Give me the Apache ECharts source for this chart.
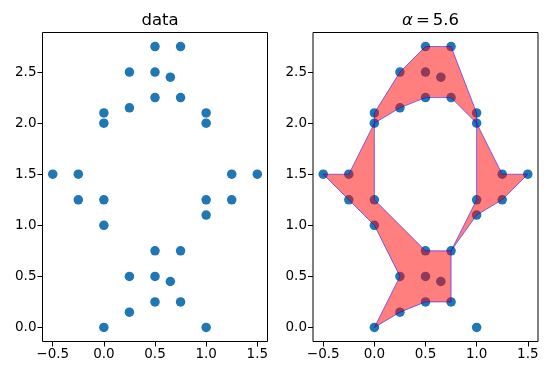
<!DOCTYPE html>
<html lang="en">
<head>
    <meta charset="UTF-8">
    <title>alpha shape</title>
    <style>
        html, body { margin: 0; padding: 0; background: #fff; }
        #main { width: 548px; height: 376px; }
    </style>
</head>
<body>
<div id="main"></div>
<script src="https://cdn.jsdelivr.net/npm/echarts@6.0.0/dist/echarts.min.js"></script>
<script type="text/javascript">
    // point cloud
    var xs = [0, 0.25, 0.5, 0.75, 0.25, 0.5, 0.65, 0.5, 0.75, 1, 0, 0, -0.25, -0.25, -0.5, 0, 0, 0.25,
        0.25, 0.5, 0.75, 0.5, 0.65, 0.5, 0.75, 1, 1, 1.25, 1.5, 1.25, 1, 1];
    var ys = [0, 0.15, 0.25, 0.25, 0.5, 0.5, 0.45, 0.75, 0.75, 0, 1, 1.25, 1.25, 1.5, 1.5, 2, 2.1, 2.15,
        2.5, 2.25, 2.25, 2.5, 2.45, 2.75, 2.75, 2, 2.1, 1.5, 1.5, 1.25, 1.25, 1.1];

    // alpha shape outline (two pieces touching at (0.75,0.75) and (1,2))
    var shapeLeft = [[1, 2], [1, 2.1], [0.75, 2.75], [0.5, 2.75], [0.25, 2.5], [0, 2.1], [0, 2],
        [-0.25, 1.5], [-0.5, 1.5], [-0.25, 1.25], [0, 1], [0.25, 0.5], [0, 0], [0.25, 0.15],
        [0.5, 0.25], [0.75, 0.25], [0.75, 0.75], [0.5, 0.75], [0, 1.25], [0, 2], [0.25, 2.15],
        [0.5, 2.25], [0.75, 2.25]];
    var shapeRight = [[0.75, 0.75], [1, 1.1], [1.25, 1.25], [1.5, 1.5], [1.25, 1.5], [1, 2], [1, 1.25]];
    var shapes = [shapeLeft, shapeRight];

    var xTicks = [-0.5, 0, 0.5, 1, 1.5];
    var yTicks = [0, 0.5, 1, 1.5, 2, 2.5];

    var points = xs.map(function (x, i) { return [x, ys[i]]; });

    function fmt(v) {
        var s = v.toFixed(1);
        return v < 0 ? '\u2212' + s.slice(1) : s;
    }

    var font = 'DejaVu Sans';

    function xAxis(i) {
        return {
            type: 'value', gridIndex: i, min: -0.6, max: 1.6,
            axisLine: { show: false, onZero: false },
            splitLine: { show: false },
            axisTick: { show: true, inside: false, length: 5, lineStyle: { color: '#000', width: 1 }, customValues: xTicks },
            axisLabel: { show: true, customValues: xTicks, formatter: fmt, color: '#000', fontFamily: font, fontSize: 13.5, margin: 6 }
        };
    }

    function yAxis(i) {
        return {
            type: 'value', gridIndex: i, min: -0.1375, max: 2.8875,
            axisLine: { show: false, onZero: false },
            splitLine: { show: false },
            axisTick: { show: true, inside: false, length: 5, lineStyle: { color: '#000', width: 1 }, customValues: yTicks },
            axisLabel: { show: true, customValues: yTicks, formatter: fmt, color: '#000', fontFamily: font, fontSize: 13.5, margin: 6 }
        };
    }

    var myChart = echarts.init(document.getElementById('main'));
    var option = {
        animation: false,
        backgroundColor: '#fff',
        title: [
            {
                text: 'data', left: 155, top: 7, textAlign: 'center',
                textStyle: { fontFamily: font, fontSize: 16.5, fontWeight: 'normal', color: '#000' }
            },
            {
                text: '{a|\u03b1}{b|=}5.6', left: 425.5, top: 7, textAlign: 'center',
                textStyle: {
                    fontFamily: font, fontSize: 16.5, fontWeight: 'normal', color: '#000',
                    rich: {
                        a: { fontFamily: font, fontSize: 16.5, fontStyle: 'italic', color: '#000' },
                        b: { fontFamily: font, fontSize: 16.5, color: '#000', padding: [0, 3, 0, 3] }
                    }
                }
            }
        ],
        grid: [
            { left: 42.5, top: 32.5, width: 225, height: 309, show: true, borderColor: '#000', borderWidth: 1 },
            { left: 313, top: 32.5, width: 225, height: 309, show: true, borderColor: '#000', borderWidth: 1 }
        ],
        xAxis: [xAxis(0), xAxis(1)],
        yAxis: [yAxis(0), yAxis(1)],
        series: [
            {
                type: 'scatter', xAxisIndex: 0, yAxisIndex: 0, data: points,
                symbolSize: 9.5, itemStyle: { color: '#1f77b4', opacity: 1 }
            },
            {
                type: 'scatter', xAxisIndex: 1, yAxisIndex: 1, data: points,
                symbolSize: 9.5, itemStyle: { color: '#1f77b4', opacity: 1 }
            },
            {
                type: 'custom', xAxisIndex: 1, yAxisIndex: 1,
                data: [[0, 0], [1, 0]],
                z: 5,
                renderItem: function (params, api) {
                    var pts = shapes[params.dataIndex].map(function (p) { return api.coord(p); });
                    return {
                        type: 'polygon',
                        shape: { points: pts },
                        style: { fill: 'rgba(255,0,0,0.5)', stroke: 'rgba(0,0,255,0.5)', lineWidth: 1 }
                    };
                }
            }
        ]
    };
    myChart.setOption(option);
</script>
</body>
</html>
